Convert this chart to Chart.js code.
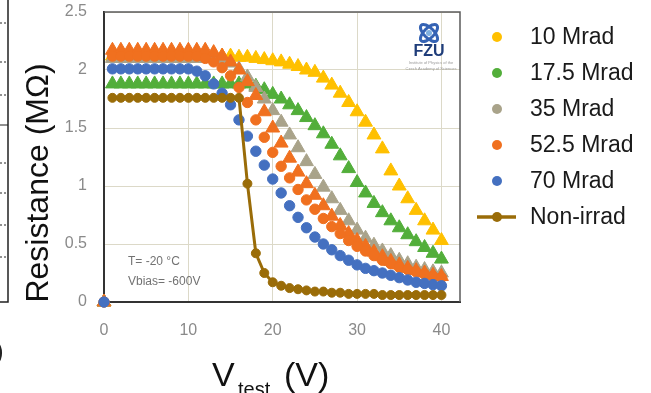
<!DOCTYPE html>
<html><head><meta charset="utf-8">
<script src="https://cdn.jsdelivr.net/npm/chart.js@4.4.0/dist/chart.umd.min.js"></script>
<style>html,body{margin:0;padding:0;background:#fff;}canvas{display:block;}</style>
</head><body>
<canvas id="c" width="651" height="393"></canvas>
<script>
// ---- data ----
const vtest = [0,1,2,3,4,5,6,7,8,9,10,11,12,13,14,15,16,17,18,19,20,21,22,23,24,25,26,27,28,29,30,31,32,33,34,35,36,37,38,39,40];
const seriesLabels = ['10 Mrad','17.5 Mrad','35 Mrad','52.5 Mrad','70 Mrad','Non-irrad'];
const r10 = [0,2.12,2.12,2.12,2.12,2.12,2.12,2.12,2.12,2.12,2.12,2.12,2.12,2.12,2.12,2.12,2.11,2.11,2.10,2.09,2.08,2.07,2.05,2.03,2.00,1.98,1.93,1.87,1.80,1.72,1.64,1.55,1.44,1.32,1.13,1.00,0.89,0.79,0.70,0.62,0.53];
const r17 = [0,1.88,1.88,1.88,1.88,1.88,1.88,1.88,1.88,1.88,1.88,1.88,1.88,1.88,1.88,1.88,1.88,1.88,1.86,1.83,1.79,1.75,1.70,1.65,1.59,1.52,1.45,1.36,1.26,1.15,1.03,0.94,0.85,0.77,0.70,0.64,0.58,0.52,0.47,0.42,0.37];
const r35 = [0,2.10,2.10,2.10,2.10,2.10,2.10,2.10,2.10,2.10,2.10,2.10,2.10,2.10,2.09,2.06,2.01,1.94,1.85,1.75,1.65,1.55,1.44,1.33,1.21,1.10,0.99,0.89,0.79,0.70,0.62,0.55,0.49,0.44,0.40,0.36,0.33,0.30,0.28,0.26,0.25];
const r52a = [0,2.17,2.17,2.17,2.17,2.17,2.17,2.17,2.17,2.17,2.17,2.17,2.17,2.15,2.12,2.07,2.00,1.90,1.78,1.64,1.50,1.37,1.24,1.12,1.02,0.92,0.83,0.74,0.66,0.59,0.53,0.48,0.43,0.39,0.35,0.32,0.29,0.27,0.25,0.23,0.22];
const r52b = [0,2.12,2.12,2.12,2.12,2.12,2.12,2.12,2.12,2.12,2.12,2.12,2.10,2.07,2.02,1.95,1.85,1.72,1.57,1.42,1.29,1.17,1.07,0.97,0.88,0.80,0.72,0.65,0.59,0.53,0.48,0.44,0.40,0.36,0.33,0.30,0.28,0.26,0.24,0.22,0.21];
const r70 = [0,2.01,2.01,2.01,2.01,2.01,2.01,2.01,2.01,2.01,2.01,1.99,1.95,1.88,1.80,1.70,1.57,1.43,1.30,1.18,1.06,0.94,0.83,0.73,0.64,0.56,0.50,0.45,0.40,0.36,0.32,0.29,0.27,0.25,0.23,0.21,0.19,0.17,0.16,0.15,0.14];
const r0 = [null,1.76,1.76,1.76,1.76,1.76,1.76,1.76,1.76,1.76,1.76,1.76,1.76,1.76,1.76,1.76,1.76,1.02,0.42,0.25,0.17,0.14,0.12,0.11,0.10,0.09,0.09,0.08,0.08,0.07,0.07,0.07,0.07,0.06,0.06,0.06,0.06,0.06,0.06,0.06,0.06];
const xTicks = [0,10,20,30,40];
const yTicks = [0,0.5,1,1.5,2,2.5];
const noteLines = ['T= -20 °C','Vbias= -600V'];
const yTitle = 'Resistance (MΩ)';
const xTitleParts = ['V','test','(V)'];

const colors = {y:'#FFC000', g:'#52AE3A', t:'#A9A38A', o:'#F0701F', b:'#4470C0', n:'#9A6C08'};
const FONT = '"Liberation Sans", Arial, sans-serif';
Chart.defaults.font.family = FONT;

function pts(ys){ return vtest.map((v,i)=>({x:v, y:ys[i]})); }
function sc(label, ys, color, style, r, order, inLegend=true){
  return {label, data: pts(ys), backgroundColor: color, borderColor: color, borderWidth: 1,
    pointStyle: style, pointRadius: r, showLine: false, order, clip: false, inLegend};
}
const datasets = [
  sc(seriesLabels[0], r10, colors.y, 'triangle', 8, 7),
  sc(seriesLabels[1], r17, colors.g, 'triangle', 8, 6),
  sc(seriesLabels[2], r35, colors.t, 'triangle', 8, 5),
  sc(seriesLabels[3], r52a, colors.o, 'triangle', 8, 4, false),
  sc(seriesLabels[3], r52b, colors.o, 'circle', 5.2, 3),
  sc(seriesLabels[4], r70, colors.b, 'circle', 5.2, 2),
  {label: seriesLabels[5], data: pts(r0), backgroundColor: colors.n, borderColor: colors.n, borderWidth: 3,
   pointStyle:'circle', pointRadius: 4.5, pointBorderWidth: 1, showLine: true, spanGaps: false, order: 1, clip: false, inLegend: true}
];

const decor = {
  id: 'decor',
  beforeDatasetsDraw(chart){
    const {ctx, chartArea:a} = chart;
    ctx.save();
    ctx.strokeStyle = '#5b5b5b'; ctx.lineWidth = 1.5;
    ctx.beginPath(); ctx.moveTo(a.left, a.top); ctx.lineTo(a.right, a.top); ctx.lineTo(a.right, a.bottom); ctx.stroke();
    // annotation
    ctx.fillStyle = '#727272'; ctx.font = '12px ' + FONT; ctx.textBaseline = 'middle'; ctx.textAlign = 'left';
    ctx.fillText(noteLines[0], 128, 262);
    ctx.fillText(noteLines[1], 128, 282);
    // FZU logo
    ctx.lineWidth = 3; ctx.strokeStyle = '#3563b4';
    ctx.save(); ctx.translate(429, 33);
    ctx.beginPath(); ctx.ellipse(0,0,11,5,Math.PI/4,0,Math.PI*2); ctx.stroke();
    ctx.beginPath(); ctx.ellipse(0,0,11,5,-Math.PI/4,0,Math.PI*2); ctx.stroke();
    ctx.fillStyle = '#7fb0e0'; ctx.beginPath(); ctx.arc(0,0,3,0,Math.PI*2); ctx.fill();
    ctx.restore();
    ctx.fillStyle = '#1f3d7a'; ctx.font = 'bold 16px ' + FONT; ctx.textAlign = 'center';
    ctx.fillText('FZU', 429, 52);
    ctx.fillStyle = '#9a9a9a'; ctx.font = '4px ' + FONT;
    ctx.fillText('Institute of Physics of the', 431, 63);
    ctx.fillText('Czech Academy of Sciences', 431, 69);
    ctx.restore();
  },
  afterDraw(chart){
    const {ctx} = chart;
    ctx.save();
    // legend
    const items = chart.data.datasets.filter(d => d.inLegend);
    items.forEach((d, i) => {
      const y = 37 + i * 36;
      if (d.showLine) {
        ctx.strokeStyle = d.borderColor; ctx.lineWidth = 3.5;
        ctx.beginPath(); ctx.moveTo(477, y); ctx.lineTo(516, y); ctx.stroke();
      }
      ctx.fillStyle = d.backgroundColor;
      ctx.beginPath(); ctx.arc(497, y, 5, 0, Math.PI*2); ctx.fill();
      ctx.fillStyle = '#1a1a1a'; ctx.font = '23px ' + FONT; ctx.textAlign = 'left'; ctx.textBaseline = 'middle';
      ctx.fillText(d.label, 530, y + 1);
    });
    // y title
    ctx.save(); ctx.translate(39, 183); ctx.rotate(-Math.PI/2);
    ctx.fillStyle = '#111'; ctx.font = '32px ' + FONT; ctx.textAlign = 'center'; ctx.textBaseline = 'middle';
    ctx.fillText(yTitle, 0, 0);
    ctx.restore();
    // x title
    ctx.fillStyle = '#111'; ctx.textAlign = 'left'; ctx.textBaseline = 'alphabetic';
    ctx.font = '34px ' + FONT; ctx.fillText(xTitleParts[0], 212, 386);
    ctx.font = '20px ' + FONT; ctx.fillText(xTitleParts[1], 238, 396);
    ctx.font = '34px ' + FONT; ctx.fillText(xTitleParts[2], 284, 386);
    // cropped neighbouring figure at left edge
    ctx.strokeStyle = '#222'; ctx.lineWidth = 1.5;
    ctx.beginPath(); ctx.moveTo(8, 0); ctx.lineTo(8, 302); ctx.lineTo(0, 302); ctx.stroke();
    ctx.lineWidth = 1; ctx.setLineDash([2,2]);
    [23, 62, 95, 163, 193, 225, 257].forEach(yy => { ctx.beginPath(); ctx.moveTo(0, yy); ctx.lineTo(8, yy); ctx.stroke(); });
    ctx.setLineDash([]);
    ctx.beginPath(); ctx.moveTo(0, 125); ctx.lineTo(8, 125); ctx.stroke();
    ctx.fillStyle = '#222'; ctx.font = '26px ' + FONT; ctx.fillText(')', -5, 360);
    ctx.restore();
  }
};

new Chart(document.getElementById('c'), {
  type: 'scatter',
  data: { datasets },
  options: {
    responsive: false, animation: false,
    layout: { padding: { left: 0, right: 191, top: 12, bottom: 0 } },
    plugins: { legend: { display: false }, tooltip: { enabled: false } },
    scales: {
      x: { type: 'linear', min: 0, max: 42.2,
        afterBuildTicks: s => { s.ticks = xTicks.map(v => ({value: v})); },
        ticks: { color: '#8a8a8a', font: { size: 16 }, padding: 19, maxRotation: 0, callback: v => String(v) },
        grid: { color: '#dcd9c8', lineWidth: 1, drawTicks: false },
        border: { color: '#333', width: 2 },
        afterFit: s => { s.height = 393 - 302; s.paddingLeft = 0; s.paddingRight = 0; } },
      y: { type: 'linear', min: 0, max: 2.5,
        afterBuildTicks: s => { s.ticks = yTicks.map(v => ({value: v})); },
        ticks: { color: '#8a8a8a', font: { size: 16 }, padding: 17, callback: v => String(v) },
        grid: { color: '#dcd9c8', lineWidth: 1, drawTicks: false },
        border: { color: '#333', width: 2 },
        afterFit: s => { s.width = 104; s.paddingTop = 0; s.paddingBottom = 0; } }
    }
  },
  plugins: [decor]
});
</script>
</body></html>
